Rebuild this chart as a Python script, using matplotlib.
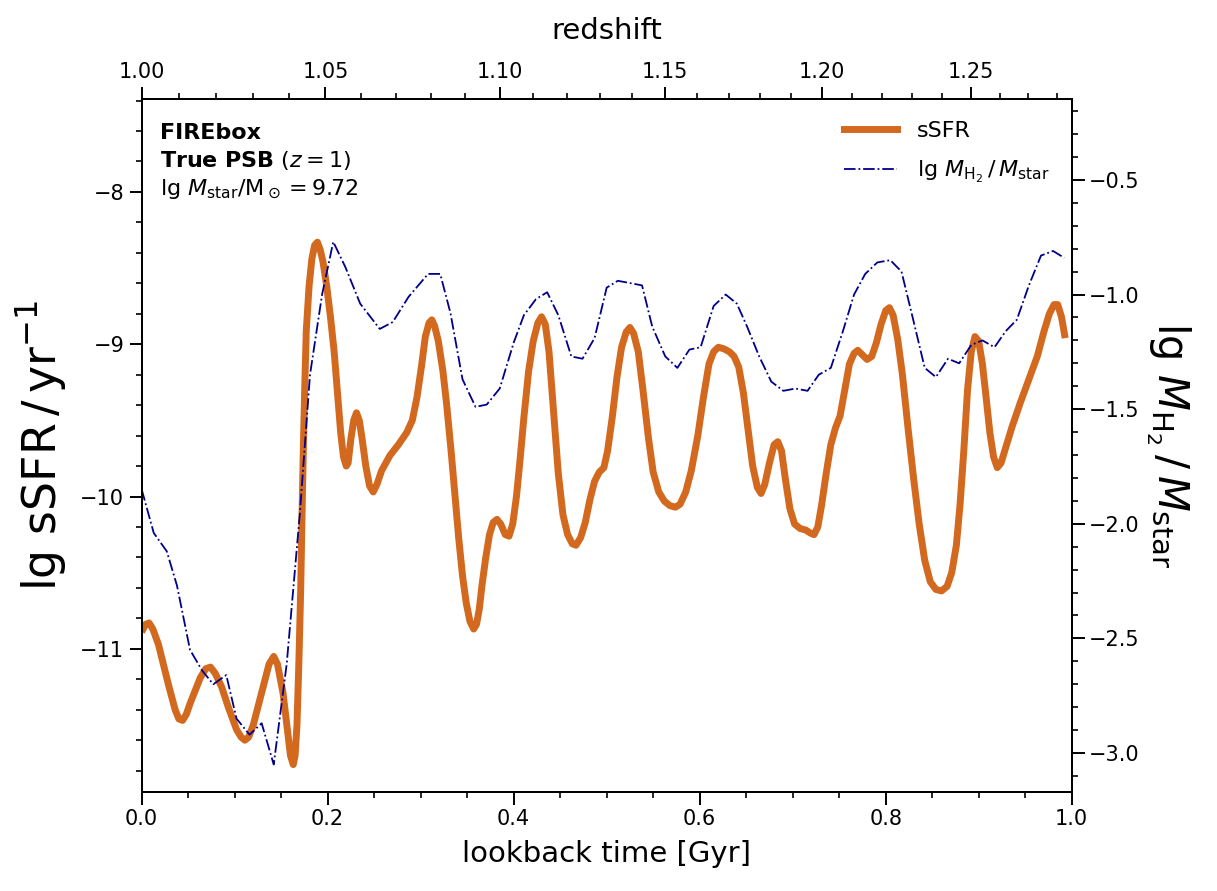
import numpy as np
import matplotlib
matplotlib.use("Agg")
import matplotlib.pyplot as plt
from matplotlib.ticker import MultipleLocator, FixedLocator, FixedFormatter
from matplotlib.lines import Line2D

# sSFR history (lookback time in Gyr, lg sSFR in yr^-1)
t_ssfr = [0.000, 0.004, 0.008, 0.012, 0.018, 0.029, 0.036, 0.040, 0.044, 0.048,
          0.052, 0.063, 0.069, 0.074, 0.079, 0.086, 0.093, 0.102, 0.107, 0.111,
          0.115, 0.120, 0.131, 0.137, 0.142, 0.146, 0.152, 0.157, 0.160, 0.163,
          0.165, 0.167, 0.169, 0.171, 0.1725, 0.174, 0.1755, 0.177, 0.180, 0.183,
          0.186, 0.189, 0.192, 0.195, 0.199, 0.203, 0.207, 0.211, 0.214, 0.217,
          0.220, 0.222, 0.225, 0.228, 0.231, 0.234, 0.237, 0.241, 0.245, 0.249,
          0.253, 0.258, 0.267, 0.276, 0.285, 0.291, 0.296, 0.301, 0.305, 0.309,
          0.312, 0.315, 0.319, 0.324, 0.328, 0.333, 0.337, 0.341, 0.345, 0.349,
          0.353, 0.357, 0.360, 0.363, 0.366, 0.370, 0.374, 0.378, 0.382, 0.386,
          0.391, 0.395, 0.399, 0.403, 0.407, 0.411, 0.416, 0.421, 0.426, 0.430,
          0.434, 0.438, 0.443, 0.448, 0.453, 0.458, 0.463, 0.467, 0.472, 0.477,
          0.482, 0.487, 0.492, 0.497, 0.501, 0.506, 0.511, 0.516, 0.521, 0.525,
          0.529, 0.534, 0.539, 0.545, 0.550, 0.556, 0.562, 0.568, 0.574, 0.579,
          0.585, 0.591, 0.598, 0.604, 0.610, 0.615, 0.620, 0.626, 0.632, 0.637,
          0.642, 0.647, 0.652, 0.657, 0.662, 0.666, 0.670, 0.675, 0.680, 0.684,
          0.688, 0.692, 0.697, 0.702, 0.708, 0.714, 0.719, 0.723, 0.727, 0.731,
          0.736, 0.741, 0.746, 0.751, 0.756, 0.761, 0.766, 0.770, 0.775, 0.780,
          0.785, 0.790, 0.795, 0.800, 0.804, 0.808, 0.813, 0.818, 0.824, 0.830,
          0.836, 0.842, 0.848, 0.854, 0.860, 0.866, 0.871, 0.876, 0.880, 0.884,
          0.888, 0.892, 0.896, 0.900, 0.904, 0.908, 0.912, 0.916, 0.920, 0.924,
          0.929, 0.936, 0.945, 0.954, 0.963, 0.970, 0.976, 0.981, 0.985, 0.989,
          0.993]
ssfr = [-10.89, -10.84, -10.83, -10.87, -10.97, -11.24, -11.40, -11.46, -11.47, -11.43,
        -11.36, -11.19, -11.13, -11.12, -11.16, -11.25, -11.38, -11.53, -11.58, -11.60,
        -11.58, -11.50, -11.24, -11.10, -11.05, -11.10, -11.29, -11.55, -11.70, -11.76,
        -11.70, -11.50, -11.10, -10.61, -10.10, -9.64, -9.25, -8.91, -8.62, -8.44,
        -8.35, -8.33, -8.38, -8.46, -8.62, -8.82, -9.05, -9.35, -9.58, -9.74,
        -9.80, -9.78, -9.62, -9.50, -9.45, -9.50, -9.62, -9.80, -9.93, -9.97,
        -9.92, -9.83, -9.73, -9.66, -9.58, -9.50, -9.35, -9.14, -8.95, -8.86,
        -8.84, -8.88, -8.98, -9.18, -9.40, -9.72, -10.00, -10.28, -10.52, -10.70,
        -10.82, -10.87, -10.84, -10.74, -10.58, -10.40, -10.25, -10.17, -10.15, -10.18,
        -10.25, -10.26, -10.18, -10.00, -9.75, -9.48, -9.18, -8.98, -8.86, -8.82,
        -8.87, -9.05, -9.45, -9.85, -10.12, -10.25, -10.31, -10.32, -10.27, -10.17,
        -10.02, -9.90, -9.84, -9.81, -9.70, -9.48, -9.22, -9.02, -8.92, -8.89,
        -8.93, -9.05, -9.30, -9.62, -9.84, -9.97, -10.03, -10.06, -10.07, -10.05,
        -9.97, -9.83, -9.60, -9.35, -9.13, -9.05, -9.02, -9.03, -9.05, -9.08,
        -9.15, -9.32, -9.56, -9.80, -9.94, -9.98, -9.92, -9.78, -9.66, -9.64,
        -9.70, -9.88, -10.08, -10.18, -10.21, -10.22, -10.24, -10.25, -10.20, -10.06,
        -9.85, -9.66, -9.55, -9.47, -9.30, -9.13, -9.06, -9.04, -9.07, -9.10,
        -9.08, -8.99, -8.87, -8.78, -8.76, -8.81, -8.97, -9.20, -9.55, -9.88,
        -10.18, -10.42, -10.56, -10.61, -10.62, -10.59, -10.50, -10.32, -10.05, -9.70,
        -9.30, -9.05, -8.95, -8.98, -9.13, -9.35, -9.58, -9.74, -9.81, -9.78,
        -9.68, -9.54, -9.38, -9.23, -9.08, -8.92, -8.80, -8.74, -8.74, -8.82,
        -8.96]

# molecular gas fraction lg(M_H2/M_star)
t_h2 = [0.000, 0.013, 0.027, 0.038, 0.052, 0.065, 0.077, 0.091, 0.102, 0.116,
        0.129, 0.142, 0.156, 0.170, 0.181, 0.194, 0.206, 0.219, 0.235, 0.256,
        0.270, 0.287, 0.308, 0.321, 0.332, 0.345, 0.359, 0.371, 0.385, 0.400,
        0.411, 0.424, 0.436, 0.448, 0.462, 0.474, 0.487, 0.500, 0.512, 0.525,
        0.538, 0.549, 0.563, 0.576, 0.589, 0.601, 0.615, 0.628, 0.640, 0.651,
        0.664, 0.677, 0.690, 0.703, 0.716, 0.728, 0.741, 0.754, 0.766, 0.778,
        0.791, 0.805, 0.817, 0.829, 0.842, 0.854, 0.867, 0.879, 0.892, 0.904,
        0.917, 0.929, 0.941, 0.954, 0.967, 0.980, 0.992]
h2 = [-1.85, -2.04, -2.12, -2.27, -2.55, -2.64, -2.70, -2.66, -2.85, -2.92,
      -2.87, -3.05, -2.61, -1.96, -1.35, -1.00, -0.77, -0.88, -1.04, -1.15,
      -1.12, -1.01, -0.91, -0.91, -1.08, -1.37, -1.49, -1.48, -1.41, -1.21,
      -1.09, -1.02, -0.99, -1.09, -1.27, -1.28, -1.19, -0.97, -0.94, -0.95,
      -0.96, -1.14, -1.27, -1.32, -1.24, -1.23, -1.05, -1.00, -1.04, -1.14,
      -1.27, -1.38, -1.42, -1.41, -1.42, -1.35, -1.32, -1.16, -1.00, -0.91,
      -0.86, -0.85, -0.90, -1.10, -1.32, -1.36, -1.28, -1.30, -1.22, -1.20,
      -1.23, -1.16, -1.11, -0.96, -0.83, -0.81, -0.84]

z_major = [1.00, 1.05, 1.10, 1.15, 1.20, 1.25]
z_minor = [round(1.00 + 0.01 * i, 2) for i in range(29)]

# lookback time since z=1 (flat LCDM, Planck 2015 as used by FIREbox)
H0, Om = 67.74, 0.3089
def tlb_since_z1(z):
    zz = np.linspace(1.0, z, 400)
    f = 1.0 / ((1 + zz) * np.sqrt(Om * (1 + zz) ** 3 + 1 - Om))
    return np.trapezoid(f, zz) * 977.8 / H0

orange = "#d2691e"
navy = "#00008b"

fig = plt.figure(figsize=(12.17, 8.91), dpi=100)
ax = fig.add_axes([0.1164, 0.1111, 0.7642, 0.7778])
ax.plot(t_ssfr, ssfr, color=orange, lw=5, solid_capstyle="butt",
        solid_joinstyle="round")
ax.set_xlim(0, 1)
ax.set_ylim(-11.94, -7.39)
ax.xaxis.set_major_locator(MultipleLocator(0.2))
ax.xaxis.set_minor_locator(MultipleLocator(0.05))
ax.yaxis.set_major_locator(MultipleLocator(1))
ax.yaxis.set_minor_locator(MultipleLocator(0.2))
ax.set_xlabel("lookback time [Gyr]", fontsize=21, labelpad=8)
ax.set_ylabel(r"$\lg\,\mathrm{sSFR}\,/\,\mathrm{yr}^{-1}$", fontsize=33, labelpad=8)

ax2 = ax.twinx()
ax2.plot(t_h2, h2, color=navy, lw=1.3, ls="-.")
ax2.set_ylim(-3.17, -0.147)
ax2.yaxis.set_major_locator(MultipleLocator(0.5))
ax2.yaxis.set_minor_locator(MultipleLocator(0.1))
ax2.set_ylabel(r"$\lg\,M_{\mathrm{H}_2}\,/\,M_{\mathrm{star}}$", fontsize=30,
               rotation=270, labelpad=38)

axt = ax.twiny()
axt.set_xlim(0, 1)
axt.xaxis.set_major_locator(FixedLocator([tlb_since_z1(z) for z in z_major]))
axt.xaxis.set_major_formatter(FixedFormatter(["%.2f" % z for z in z_major]))
axt.xaxis.set_minor_locator(FixedLocator([tlb_since_z1(z) for z in z_minor]))
axt.set_xlabel("redshift", fontsize=21, labelpad=16)

for a in (ax, ax2, axt):
    a.tick_params(which="major", direction="out", length=9, width=1.4, labelsize=15)
    a.tick_params(which="minor", direction="out", length=4.5, width=1.2)
    for s in a.spines.values():
        s.set_linewidth(1.4)

ax.text(0.02, 0.942, "FIREbox", transform=ax.transAxes, fontsize=16,
        fontweight="bold", va="baseline")
ax.text(0.02, 0.902, r"$\bf{True\ PSB}$ $(z=1)$", transform=ax.transAxes,
        fontsize=16, va="baseline")
ax.text(0.02, 0.862, r"lg $M_{\rm star}/\mathrm{M}_\odot=9.72$",
        transform=ax.transAxes, fontsize=16, va="baseline")

handles = [Line2D([], [], color=orange, lw=5),
           Line2D([], [], color=navy, lw=1.3, ls="-.")]
labels = ["sSFR", r"$\lg\,M_{\mathrm{H}_2}\,/\,M_{\mathrm{star}}$"]
ax2.legend(handles, labels, loc="upper right", frameon=False, fontsize=16,
           handlelength=2.4, handletextpad=0.9, labelspacing=0.8,
           borderaxespad=0.6)

fig.savefig("out.png", dpi=100)
